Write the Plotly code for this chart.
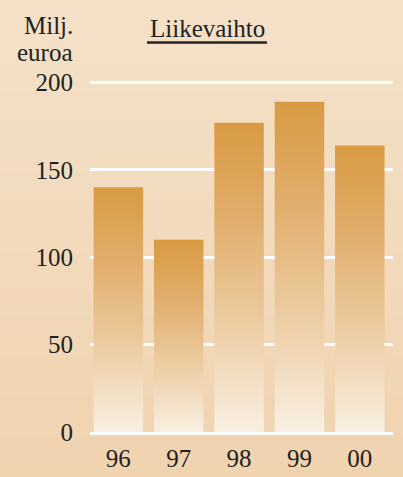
import plotly.graph_objects as go

years = ["96", "97", "98", "99", "00"]
revenue = [140, 110, 177, 189, 164]
y_ticks = [0, 50, 100, 150, 200]

half = 0.41
bar_scale = [[0, "#f9efe2"], [0.35, "#eccca2"], [0.7, "#e0ad6a"], [1, "#d99a42"]]

fig = go.Figure()

for i, v in enumerate(revenue):
    fig.add_trace(
        go.Scatter(
            x=[i - half, i + half, i + half, i - half, i - half],
            y=[0, 0, v, v, 0],
            mode="lines",
            line=dict(width=0),
            fill="toself",
            fillgradient=dict(type="vertical", colorscale=bar_scale),
            hoverinfo="skip",
            showlegend=False
        )
    )

# background gradient
bg_top = (244, 226, 201)
bg_bot = (240, 210, 174)
n = 40
y0, y1 = -0.2, 1.3
for k in range(n):
    t = k / (n - 1)
    c = tuple(round(bg_bot[j] + (bg_top[j] - bg_bot[j]) * t) for j in range(3))
    fig.add_shape(
        type="rect", xref="paper", yref="paper",
        x0=-0.4, x1=1.1,
        y0=y0 + (y1 - y0) * k / n, y1=y0 + (y1 - y0) * (k + 1) / n + 0.002,
        fillcolor="rgb(%d,%d,%d)" % c, line=dict(width=0), layer="below"
    )

# title underline
fig.add_shape(
    type="line", xref="paper", yref="paper",
    x0=(147 - 90) / 303, x1=(267 - 90) / 303,
    y0=(432 - 42) / 353.5, y1=(432 - 42) / 353.5,
    line=dict(color="#222222", width=2.5)
)

fig.add_annotation(
    text="Liikevaihto", xref="paper", yref="paper",
    x=(207 - 90) / 303, y=(432 - 28) / 353.5,
    xanchor="center", yanchor="middle", showarrow=False,
    font=dict(size=25, color="#222222")
)
fig.add_annotation(
    text="Milj.", xref="paper", yref="paper",
    x=(75 - 90) / 303, y=(432 - 25) / 353.5,
    xanchor="right", yanchor="middle", showarrow=False,
    font=dict(size=25, color="#222222")
)
fig.add_annotation(
    text="euroa", xref="paper", yref="paper",
    x=(75 - 90) / 303, y=(432 - 52) / 353.5,
    xanchor="right", yanchor="middle", showarrow=False,
    font=dict(size=25, color="#222222")
)

fig.update_layout(
    width=403,
    height=477,
    margin=dict(l=90, r=10, t=78.5, b=45, pad=0, autoexpand=False),
    paper_bgcolor="#f2dabd",
    plot_bgcolor="rgba(0,0,0,0)",
    font=dict(family="'Liberation Serif', 'Times New Roman', serif", size=25, color="#222222"),
    showlegend=False
)

fig.update_xaxes(
    range=[-0.47, 4.55],
    tickvals=list(range(len(years))),
    ticktext=years,
    showgrid=False,
    zeroline=False,
    showline=True,
    linecolor="white",
    linewidth=3,
    ticks="",
    ticklabelstandoff=2,
    automargin=False,
    fixedrange=True
)

fig.update_yaxes(
    range=[0, 202],
    tickvals=y_ticks,
    showgrid=True,
    gridcolor="white",
    gridwidth=2.5,
    zeroline=False,
    ticks="",
    ticklabelstandoff=16,
    automargin=False,
    fixedrange=True
)

fig.write_html(
    "out.html",
    config=dict(displayModeBar=False),
    post_script="document.body.style.margin='0';document.body.style.background='#f2dabd';"
)
